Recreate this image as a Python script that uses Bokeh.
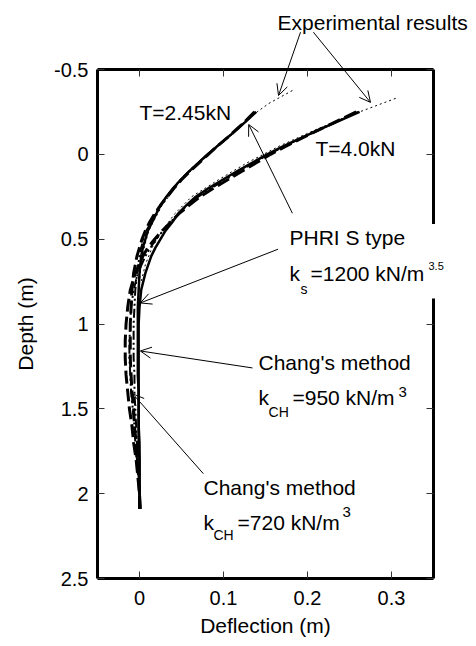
from bokeh.plotting import figure
from bokeh.models import (Range1d, LinearAxis, FixedTicker, Label, Arrow, OpenHead,
                          BoxAnnotation, CustomJSTickFormatter)
from bokeh.embed import file_html
from bokeh.resources import INLINE

FONT = "Liberation Sans"

# ---------------- data ----------------
x_ticks = [0, 0.1, 0.2, 0.3]
x_tick_labels = ["0", "0.1", "0.2", "0.3"]
y_ticks = [-0.5, 0, 0.5, 1, 1.5, 2, 2.5]
y_tick_labels = ["-0.5", "0", "0.5", "1", "1.5", "2", "2.5"]
x_lim = (-0.05, 0.35)
y_lim = (-0.5, 2.5)

depth_model = [-0.25, -0.20, -0.15, -0.10, -0.05, 0.00, 0.05, 0.10, 0.15, 0.20, 0.25,
               0.30, 0.35, 0.40, 0.45, 0.50, 0.55, 0.60, 0.70, 0.80, 0.90, 1.00, 1.10,
               1.20, 1.30, 1.40, 1.50, 1.60, 1.70, 1.80, 1.90, 2.00, 2.09]

phri_245 = [0.139, 0.128, 0.117, 0.105, 0.093, 0.081, 0.070, 0.059, 0.049, 0.040, 0.032,
            0.025, 0.020, 0.015, 0.010, 0.007, 0.004, 0.002, 0.000, -0.001, -0.002, -0.002, -0.002,
            -0.002, -0.002, -0.001, -0.001, -0.001, -0.001, 0.000, 0.000, 0.000, 0.000]
phri_40 = [0.262, 0.239, 0.216, 0.194, 0.172, 0.152, 0.134, 0.116, 0.099, 0.082, 0.067,
           0.056, 0.046, 0.039, 0.031, 0.025, 0.019, 0.014, 0.007, 0.002, 0.000, -0.001, -0.001,
           -0.001, -0.001, -0.001, -0.001, -0.001, 0.000, 0.000, 0.000, 0.000, 0.001]
chang950_245 = [0.138, 0.127, 0.116, 0.105, 0.093, 0.081, 0.070, 0.059, 0.049, 0.040, 0.032,
                0.025, 0.019, 0.014, 0.008, 0.005, 0.002, 0.000, -0.003, -0.005, -0.006, -0.007, -0.007,
                -0.007, -0.006, -0.006, -0.005, -0.004, -0.003, -0.002, -0.001, 0.000, 0.000]
chang720_245 = [0.137, 0.127, 0.116, 0.105, 0.093, 0.082, 0.071, 0.060, 0.050, 0.041, 0.033,
                0.025, 0.018, 0.012, 0.007, 0.003, 0.000, -0.003, -0.007, -0.009, -0.010, -0.011, -0.011,
                -0.011, -0.010, -0.009, -0.007, -0.006, -0.004, -0.003, -0.001, 0.000, 0.000]
chang950_40 = [0.260, 0.238, 0.216, 0.194, 0.173, 0.154, 0.136, 0.119, 0.102, 0.085, 0.070,
               0.057, 0.046, 0.037, 0.028, 0.020, 0.013, 0.007, -0.002, -0.007, -0.010, -0.011, -0.012,
               -0.012, -0.011, -0.010, -0.008, -0.006, -0.005, -0.003, -0.001, 0.000, 0.000]
chang720_40 = [0.258, 0.237, 0.216, 0.195, 0.175, 0.156, 0.139, 0.122, 0.105, 0.088, 0.072,
               0.059, 0.047, 0.037, 0.027, 0.018, 0.010, 0.004, -0.005, -0.011, -0.014, -0.016, -0.017,
               -0.017, -0.016, -0.014, -0.012, -0.009, -0.007, -0.004, -0.002, 0.000, 0.001]

exp_depth_245 = [-0.376, -0.30, -0.25, -0.15, 0.0, 0.15, 0.30, 0.45, 0.60, 0.75]
exp_defl_245 = [0.182, 0.154, 0.140, 0.118, 0.083, 0.050, 0.027, 0.011, 0.003, 0.000]
exp_depth_40 = [-0.33, -0.25, -0.15, -0.05, 0.05, 0.15, 0.25, 0.35, 0.45, 0.55, 0.65, 0.75]
exp_defl_40 = [0.305, 0.262, 0.212, 0.167, 0.128, 0.094, 0.062, 0.042, 0.027, 0.015, 0.007, 0.002]

# ---------------- figure ----------------
# The frame spans the whole canvas; the four spines are axes fixed at the data limits,
# so that annotations outside the plotting box are not clipped.
W, H = 476, 646
L, R, T, B = 97, 433, 69, 578          # pixel position of the plotting box
sx = (R - L) / (x_lim[1] - x_lim[0])
sy = (B - T) / (y_lim[1] - y_lim[0])
p = figure(width=W, height=H, output_backend="svg", toolbar_location=None,
           x_range=Range1d(x_lim[0] - L / sx, x_lim[1] + (W - R) / sx),
           y_range=Range1d(y_lim[1] + (H - B) / sy, y_lim[0] - T / sy),
           x_axis_location=None, y_axis_location=None,
           min_border=0)
p.grid.visible = False
p.outline_line_color = None
p.background_fill_color = "white"
p.border_fill_color = "white"

def make_axis(ticks, labels, loc, bounds):
    if labels is None:
        ax = LinearAxis(formatter=CustomJSTickFormatter(code="return ''"))
    else:
        ax = LinearAxis()
        ax.major_label_overrides = dict(zip(ticks, labels))
    ax.ticker = FixedTicker(ticks=ticks)
    ax.fixed_location = loc
    ax.bounds = bounds
    ax.major_tick_in = 7
    ax.major_tick_out = 0
    ax.major_tick_line_color = "#333333"
    ax.major_tick_line_width = 1
    ax.minor_tick_line_color = None
    ax.axis_line_width = 3
    ax.axis_line_color = "black"
    ax.major_label_text_font = FONT
    ax.major_label_text_font_size = "20px"
    ax.major_label_text_color = "black"
    ax.axis_label_text_font = FONT
    ax.axis_label_text_font_size = "21px"
    ax.axis_label_text_font_style = "normal"
    ax.axis_label_text_color = "black"
    return ax

bottom_ax = make_axis(x_ticks, x_tick_labels, y_lim[1], x_lim)
bottom_ax.axis_label = "Deflection (m)"
bottom_ax.major_label_standoff = 12
bottom_ax.axis_label_standoff = 6
p.add_layout(bottom_ax, "below")

left_ax = make_axis(y_ticks, y_tick_labels, x_lim[0], y_lim)
left_ax.axis_label = "Depth (m)"
left_ax.major_label_standoff = 9
left_ax.axis_label_standoff = 14
p.add_layout(left_ax, "left")

top_ax = make_axis(x_ticks, None, y_lim[0], x_lim)
top_ax.major_label_standoff = 0
p.add_layout(top_ax, "above")

right_ax = make_axis(y_ticks, None, x_lim[1], y_lim)
right_ax.major_label_standoff = 0
p.add_layout(right_ax, "right")

# curves
p.line(exp_defl_245, exp_depth_245, line_color="black", line_width=1, line_dash="2 3")
p.line(exp_defl_40, exp_depth_40, line_color="black", line_width=1, line_dash="2 3")
for xs in (chang950_245, chang950_40):
    p.line(xs, depth_model, line_color="black", line_width=2, line_dash="9 3 2 3 2 3")
for xs in (chang720_245, chang720_40):
    p.line(xs, depth_model, line_color="black", line_width=3, line_dash="13 5")
for xs in (phri_245, phri_40):
    p.line(xs, depth_model, line_color="black", line_width=2.5)

# white box behind the PHRI text (it hides the right spine there)
p.add_layout(BoxAnnotation(left=0.175, right=0.372, top=0.41, bottom=0.85,
                           fill_color="white", fill_alpha=1, line_color=None))

def lab(x, y, text, size="21px"):
    p.add_layout(Label(x=x, y=y, text=text, text_font=FONT, text_font_size=size,
                       text_baseline="middle", text_align="left", text_color="black"))

lab(0.1643, -0.776, "Experimental results")
lab(0.0, -0.247, "T=2.45kN")
lab(0.2095, -0.035, "T=4.0kN")
lab(0.1786, 0.488, "PHRI S type")
lab(0.1786, 0.700, "k")
lab(0.1917, 0.794, "s", "14px")
lab(0.2036, 0.700, "=1200 kN/m")
lab(0.344, 0.659, "3.5", "11px")
lab(0.1417, 1.224, "Chang's method")
lab(0.1417, 1.435, "k")
lab(0.1536, 1.518, "CH", "14px")
lab(0.1821, 1.435, "=950 kN/m")
lab(0.3083, 1.400, "3", "15px")
lab(0.0762, 1.965, "Chang's method")
lab(0.0762, 2.171, "k")
lab(0.0881, 2.241, "CH", "14px")
lab(0.1167, 2.171, "=720 kN/m")
lab(0.2417, 2.106, "3", "15px")

def arr(x0, y0, x1, y1):
    p.add_layout(Arrow(x_start=x0, y_start=y0, x_end=x1, y_end=y1, line_width=1,
                       line_color="black",
                       end=OpenHead(size=11, line_width=1, line_color="black")))

arr(0.1917, -0.72, 0.1655, -0.347)
arr(0.207, -0.72, 0.275, -0.306)
arr(0.182, 0.347, 0.130, -0.176)
arr(0.165, 0.559, 0.001, 0.876)
arr(0.1345, 1.259, 0.001, 1.159)
arr(0.076, 1.882, -0.008, 1.412)

open("out.html", "w").write(file_html(p, INLINE))
